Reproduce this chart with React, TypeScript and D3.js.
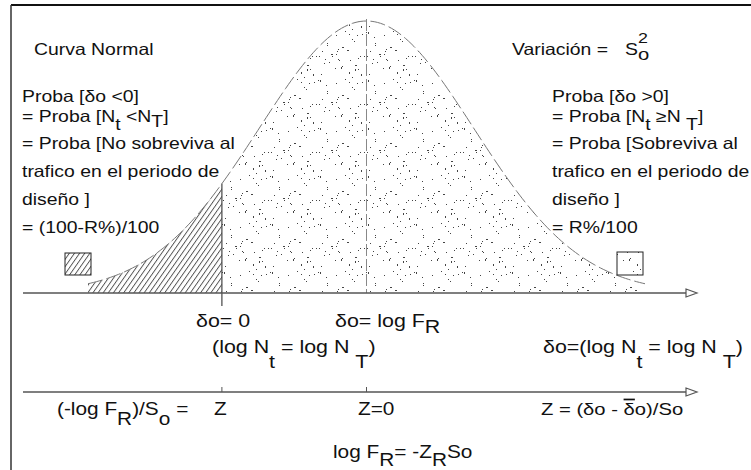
import React from "react";
import * as d3 from "d3";

// ---- data ----
const zDomain = [-2.6, 2.6];          // extent of the drawn normal curve (Z units)
const zCritical = -1.35;              // δo = 0  → Z_R
const zMean = 0;                      // δo = log F_R → Z = 0
const zTicks = [zCritical, zMean];

type Seg = [string, number?, boolean?]; // text, baseline offset, overline

const leftLines: Seg[][] = [
  [["Proba [δo <0]"]],
  [["= Proba [N"], ["t", 8], [" <N"], ["T", 5], ["]"]],
  [["= Proba [No sobreviva al"]],
  [["trafico en el periodo de"]],
  [["diseño ]"]],
  [["= (100-R%)/100"]],
];
const rightLines: Seg[][] = [
  [["Proba [δo >0]"]],
  [["= Proba [N"], ["t", 8], [" ≥N "], ["T", 8], ["]"]],
  [["= Proba [Sobreviva al"]],
  [["trafico en el periodo de"]],
  [["diseño ]"]],
  [["= R%/100"]],
];
const lineBaselines = [102, 122, 149, 177, 205, 233];

const W = 751, H = 470;
const SX = 1.19;
const FS = 16.3;
const FONT = "'Liberation Sans', Arial, sans-serif";

const pdf = (z: number) => Math.exp(-(z * z) / 2);

function Rich({ x, y, segs, size = FS, sx = SX }: { x: number; y: number; segs: Seg[]; size?: number; sx?: number }) {
  let prev = 0;
  return (
    <text transform={`translate(${x},${y}) scale(${sx},1)`} fontSize={size} fontFamily={FONT} fill="#111">
      {segs.map((s, i) => {
        const off = s[1] || 0;
        const dy = off - prev;
        prev = off;
        return (
          <tspan key={i} dy={dy} textDecoration={s[2] ? "overline" : undefined}>
            {s[0]}
          </tspan>
        );
      })}
    </text>
  );
}

function stippleDots() {
  let seed = 98765;
  const rnd = () => {
    seed = (seed * 1103515245 + 12345) % 2147483648;
    return seed / 2147483648;
  };
  const dots: { x: number; y: number; w: number; h: number }[] = [];
  for (let i = 0; i < 42; i++) {
    const r = rnd();
    dots.push({
      x: Math.floor(rnd() * 48),
      y: Math.floor(rnd() * 48),
      w: r < 0.15 ? 2 : 1,
      h: r > 0.9 ? 2 : 1,
    });
  }
  return dots;
}

export default function App() {
  const x = d3.scaleLinear().domain(zDomain).range([88, 645]);
  const y = d3.scaleLinear().domain([0, 1]).range([293, 21]);
  const axisY = 293;
  const axis2Y = 392;
  const axisX0 = 23, axisX1 = 697;

  const samples = (a: number, b: number) => {
    const n = 200;
    return d3.range(n + 1).map((i) => a + ((b - a) * i) / n);
  };
  const area = d3
    .area<number>()
    .x((z) => x(z))
    .y0(axisY)
    .y1((z) => y(pdf(z)));
  const line = d3
    .line<number>()
    .x((z) => x(z))
    .y((z) => y(pdf(z)));

  const dots = stippleDots();
  const xc = x(zCritical);
  const xm = x(zMean);

  const arrow = (ay: number) => `M${axisX1 - 11},${ay - 4} L${axisX1},${ay} L${axisX1 - 11},${ay + 4} Z`;

  return (
    <svg width={W} height={H} style={{ position: "absolute", left: 0, top: 0, background: "#fff" }}>
      <defs>
        <pattern id="hatch" patternUnits="userSpaceOnUse" width={4.2} height={10} patternTransform="rotate(35)">
          <line x1={0.5} y1={0} x2={0.5} y2={10} stroke="#222" strokeWidth={0.8} />
        </pattern>
        <pattern id="stipple" patternUnits="userSpaceOnUse" width={48} height={48}>
          {dots.map((d, i) => (
            <rect key={i} x={d.x} y={d.y} width={d.w} height={d.h} fill="#444" />
          ))}
        </pattern>
      </defs>

      {/* frame */}
      <line x1={11} y1={5} x2={W} y2={5} stroke="#111" strokeWidth={2} />
      <line x1={11} y1={5} x2={11} y2={H} stroke="#333" strokeWidth={1.5} />

      {/* areas */}
      <path d={area(samples(zDomain[0], zCritical)) || ""} fill="url(#hatch)" />
      <path d={area(samples(zCritical, zDomain[1])) || ""} fill="url(#stipple)" />
      <path d={line(samples(zDomain[0], zDomain[1])) || ""} fill="none" stroke="#777" strokeWidth={1} strokeDasharray="15 4" />
      <line x1={xm} y1={y(1) - 2} x2={xm} y2={axisY} stroke="#888" strokeWidth={1} strokeDasharray="12 3" />
      <line x1={xc} y1={y(pdf(zCritical))} x2={xc} y2={axisY + 13} stroke="#444" strokeWidth={1.2} />

      {/* main axis */}
      <line x1={axisX0} y1={axisY} x2={axisX1 - 11} y2={axisY} stroke="#555" strokeWidth={1.3} />
      <path d={arrow(axisY)} fill="#fff" stroke="#555" strokeWidth={1.2} />

      {/* second axis */}
      <line x1={axisX0} y1={axis2Y} x2={axisX1 - 11} y2={axis2Y} stroke="#555" strokeWidth={1.3} />
      <path d={arrow(axis2Y)} fill="#fff" stroke="#555" strokeWidth={1.2} />
      {zTicks.map((z, i) => (
        <line key={i} x1={x(z)} y1={axis2Y - 5} x2={x(z)} y2={axis2Y} stroke="#555" strokeWidth={1} />
      ))}

      {/* legend squares */}
      <rect x={65} y={253} width={26} height={22} fill="url(#hatch)" stroke="#222" strokeWidth={1} />
      <rect x={617} y={252} width={26} height={23} fill="url(#stipple)" stroke="#222" strokeWidth={1} />

      {/* texts */}
      <Rich x={34} y={55} segs={[["Curva Normal"]]} />
      <Rich x={512} y={55} segs={[["Variación ="]]} />
      <Rich x={625} y={55} segs={[["S"]]} />
      <Rich x={638} y={43} segs={[["2"]]} size={15} />
      <Rich x={638} y={60} segs={[["o"]]} size={17} />
      {leftLines.map((s, i) => (
        <Rich key={"l" + i} x={22} y={lineBaselines[i]} segs={s} />
      ))}
      {rightLines.map((s, i) => (
        <Rich key={"r" + i} x={552} y={lineBaselines[i]} segs={s} />
      ))}

      <Rich x={196} y={327} size={18} segs={[["δo= 0"]]} />
      <Rich x={335} y={327} size={18} segs={[["δo= log F"], ["R", 6]]} />
      <Rich x={212} y={353} size={18} segs={[["(log N"], ["t", 15], [" = log N "], ["T", 15], [")"]]} />
      <Rich x={543} y={353} size={18} segs={[["δo=(log N"], ["t", 15], [" = log N "], ["T", 15], [")"]]} />

      <Rich x={57} y={415} size={17.5} segs={[["(-log F"], ["R", 10], [")/S"], ["o", 10], [" ="]]} />
      <Rich x={214} y={415} size={17.5} segs={[["Z"]]} />
      <Rich x={358} y={415} size={17.5} segs={[["Z=0"]]} />
      <Rich x={541} y={415} size={17} segs={[["Z = (δo  - "], ["δ", 0, true], ["o)/So"]]} />
      <Rich x={333} y={458} size={17.5} segs={[["log F"], ["R", 8], ["= -Z"], ["R", 8], ["So"]]} />
    </svg>
  );
}
